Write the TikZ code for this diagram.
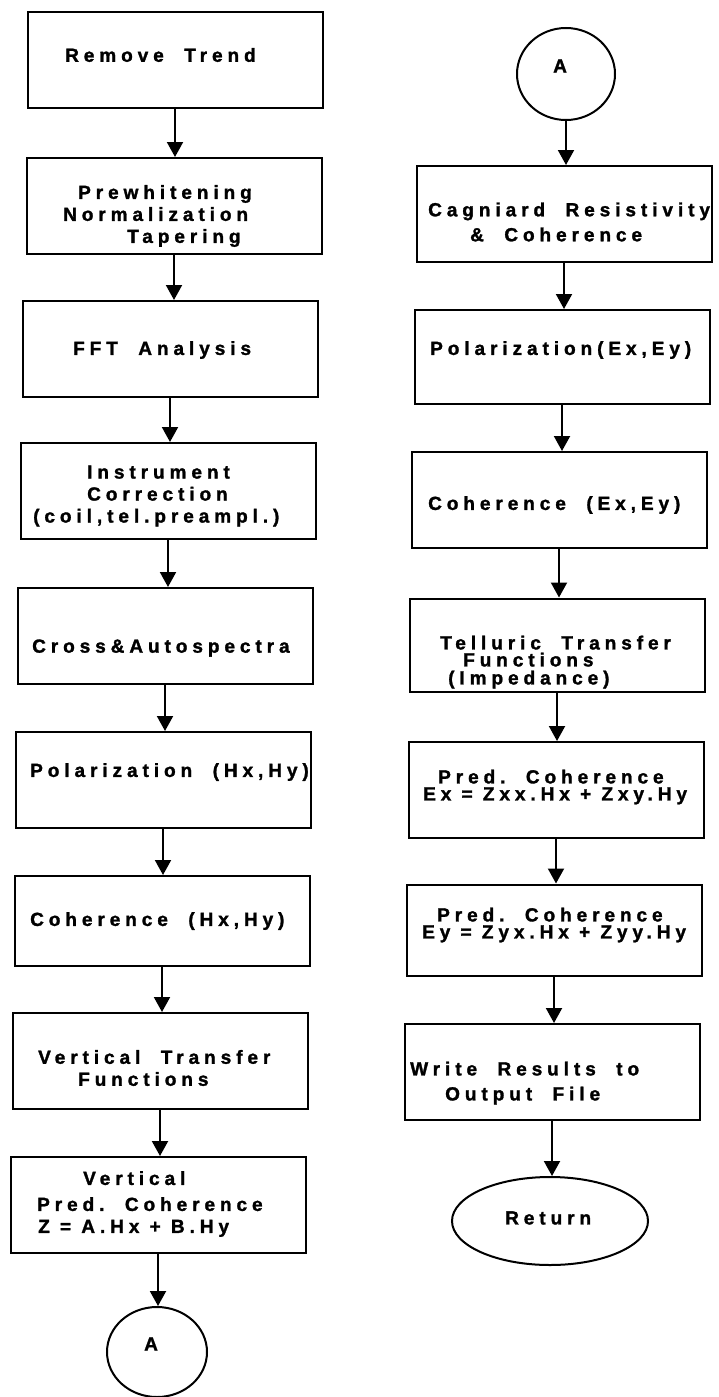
\documentclass[tikz,border=0pt]{standalone}
\usepackage{fontspec}
\usetikzlibrary{arrows.meta,shapes.geometric}
\newfontfamily\chartfont{Liberation Sans}[LetterSpace=26, BoldFeatures={FakeBold=1.5}]

% indent of a single line inside a left-aligned text block
\newcommand\ind[1]{\hspace*{#1pt}}

\tikzset{
  chartfont/.style={font=\chartfont\bfseries\fontsize{19}{22}\selectfont},
  stepbox/.style={draw, line width=2pt, minimum width=295pt, minimum height=96pt, inner sep=0pt},
  conn/.style={draw, ellipse, line width=2pt, inner sep=0pt},
  % text of a shape: its left edge and vertical middle are given as shifts from the shape's centre
  txt/.style n args={3}{append after command={
      node[chartfont, align=left, inner sep=0pt, anchor=west]
        (\tikzlastnode-text) at ([xshift=#1pt,yshift=#2pt]\tikzlastnode.center) {#3}}},
  flow/.style={line width=2pt, -{Triangle[width=16pt,length=15pt]}}
}

\begin{document}
\begin{tikzpicture}[x=1pt,y=-1pt]
  \useasboundingbox (0,0) rectangle (719,1397);

  % left column
  \node[stepbox, txt={-110}{5}{Remove\ \ Trend}] (trend) at (175,60) {};
  \node[stepbox, txt={-111}{-10}{\ind{15}Prewhitening\\Normalization\\\ind{64}Tapering}] (prew) at (174,206) {};
  \node[stepbox, txt={-97}{-1}{FFT\ \ Analysis}] (fft) at (170,349) {};
  \node[stepbox, txt={-135}{-5}{\ind{54}Instrument\\\ind{54}Correction\\(coil,tel.preampl.)}] (instr) at (168,491) {};
  \node[stepbox, txt={-133}{-12}{Cross\&Autospectra}] (cross) at (165,636) {};
  \node[stepbox, txt={-133}{8}{Polarization\ \ (Hx,Hy)}] (polh) at (163,780) {};
  \node[stepbox, minimum height=90pt, txt={-132}{0}{Coherence\ \ (Hx,Hy)}] (cohh) at (162,921) {};
  \node[stepbox, txt={-122}{-7}{Vertical\ \ Transfer\\\ind{40}Functions}] (vtf) at (160,1061) {};
  \node[stepbox, txt={-121}{1}{\ind{46}Vertical\\[4pt]Pred.\ \ Coherence\\\ind{1}Z\ =\ A.Hx\ +\ B.Hy}] (vpc) at (158,1205) {};
  \node[conn, minimum width=100pt, minimum height=90pt, txt={-13}{8}{A}] (offA) at (157,1352) {};

  % right column
  \node[conn, minimum width=98pt, minimum height=92pt, txt={-13}{8}{A}] (onA) at (566,74) {};
  \node[stepbox, txt={-136}{-8}{Cagniard\ \ Resistivity\\[3pt]\ind{42}\&\ \ Coherence}] (cagn) at (564,214) {};
  \node[stepbox, minimum height=94pt, txt={-132}{7}{Polarization(Ex,Ey)}] (pole) at (562,357) {};
  \node[stepbox, txt={-131}{-5}{Coherence\ \ (Ex,Ey)}] (cohe) at (559,500) {};
  \node[stepbox, minimum height=93pt, txt={-117}{-17}{Telluric\ \ Transfer\\[-5pt]\ind{23}Functions\\[-4pt]\ind{8}(Impedance)}] (tell) at (557,645) {};
  \node[stepbox, txt={-133}{3}{\ind{15}Pred.\ \ Coherence\\[-5pt]Ex\ =\ Zxx.Hx\ +\ Zxy.Hy}] (predx) at (556,790) {};
  \node[stepbox, minimum height=91pt, txt={-132}{5}{\ind{15}Pred.\ \ Coherence\\[-5pt]Ey\ =\ Zyx.Hx\ +\ Zyy.Hy}] (predy) at (554,930) {};
  \node[stepbox, txt={-142}{-11}{Write\ \ Results\ \ to\\[3pt]\ind{35}Output\ \ File}] (write) at (552,1072) {};
  \node[conn, minimum width=196pt, minimum height=88pt, txt={-45}{3}{Return}] (ret) at (550,1221) {};

  % connectors
  \foreach \a/\b in {trend/prew, prew/fft, fft/instr, instr/cross, cross/polh,
                     polh/cohh, cohh/vtf, vtf/vpc, vpc/offA,
                     onA/cagn, cagn/pole, pole/cohe, cohe/tell, tell/predx,
                     predx/predy, predy/write, write/ret}
    \draw[flow] (\a.south) -- (\a.south |- \b.north);
\end{tikzpicture}
\end{document}
